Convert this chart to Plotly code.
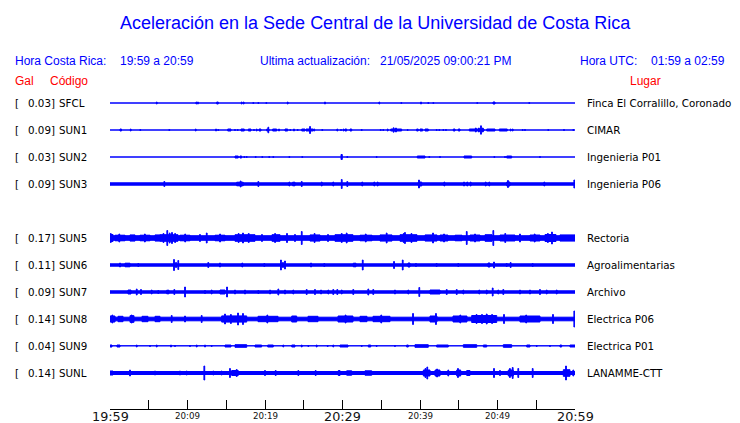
import plotly.graph_objects as go

W, H = 740, 423

# ---------------- text content ----------------
title_text = "Aceleración en la Sede Central de la Universidad de Costa Rica"
hora_cr_label = "Hora Costa Rica:"
hora_cr = "19:59 a 20:59"
update_label = "Ultima actualización:"
update_time = "21/05/2025 09:00:21 PM"
hora_utc_label = "Hora UTC:"
hora_utc = "01:59 a 02:59"

# ---------------- stations ----------------
codes = ["SFCL", "SUN1", "SUN2", "SUN3", "SUN5", "SUN6", "SUN7", "SUN8", "SUN9", "SUNL"]
gal = [0.03, 0.09, 0.03, 0.09, 0.17, 0.11, 0.09, 0.14, 0.04, 0.14]
places = ["Finca El Corralillo, Coronado", "CIMAR", "Ingenieria P01", "Ingenieria P06",
          "Rectoria", "Agroalimentarias", "Archivo", "Electrica P06", "Electrica P01",
          "LANAMME-CTT"]
slots = [0, 1, 2, 3, 5, 6, 7, 8, 9, 10]          # SUN4 slot is empty
base_amp = [0, 0, 0, 1.7, 2.8, 1.7, 1.7, 2.3, 0.7, 2.0]   # background noise half-amplitude

# time axis (minutes after 19:59)
tick_minutes = list(range(0, 61, 5))
tick_text = {0: "19:59", 10: "20:09", 20: "20:19", 30: "20:29", 40: "20:39", 50: "20:49", 60: "20:59"}
big_ticks = [0, 30, 60]

# events: (start minute, end minute, half-amplitude)
SFCL_ev = [(6.03, 6.03, 1.5), (11.14, 11.14, 1.5), (11.35, 11.35, 1.5), (13.77, 13.97, 1.5),
           (16.99, 16.99, 1.5), (17.25, 17.25, 1.5), (18.49, 18.49, 1), (19.14, 19.14, 1),
           (20.17, 20.17, 1), (22.93, 22.93, 1.5), (27.74, 27.74, 1.5), (34.75, 34.75, 1.5),
           (37.59, 37.59, 1), (40.13, 40.13, 1.5), (41.07, 41.07, 1), (41.72, 41.72, 1),
           (47.39, 47.39, 1), (49.42, 49.68, 1.5), (54.10, 54.10, 1)]

SUN1_ev = [(1.29, 1.48, 1.5), (2.67, 2.67, 1.5), (3.91, 3.91, 1), (7.65, 7.65, 1),
           (11.06, 11.06, 1.5), (13.68, 13.68, 1.5), (13.97, 13.97, 1), (15.19, 15.61, 1.5),
           (16.13, 16.13, 1), (16.48, 16.48, 1), (16.90, 17.33, 1.5), (17.85, 18.19, 1.5),
           (18.58, 18.58, 1), (18.93, 18.93, 1.5), (19.23, 19.48, 1.5), (20.22, 20.52, 1.5),
           (20.43, 20.43, 3.3), (20.99, 21.51, 1.5), (21.81, 21.81, 1.5), (22.58, 22.93, 1.5),
           (23.26, 23.26, 1), (23.74, 23.74, 1.5), (24.22, 24.22, 1), (24.74, 25.16, 1.5),
           (25.29, 26.23, 1.5), (25.81, 25.81, 4), (26.36, 26.36, 1.5), (27.39, 27.39, 1),
           (29.33, 29.33, 1.5), (29.81, 29.81, 1), (30.15, 30.15, 1.5), (30.32, 30.54, 1.5),
           (30.97, 31.19, 1.5), (32.48, 32.48, 1), (34.93, 34.93, 1), (35.26, 35.26, 1),
           (35.83, 35.83, 1.5), (36.22, 37.63, 1.5), (36.6, 36.6, 2.7), (36.9, 36.9, 2.5),
           (38.41, 38.41, 1),
           (39.57, 39.77, 1.5), (40.0, 40.34, 1.5), (40.65, 41.07, 1.5), (42.15, 42.15, 1),
           (42.49, 42.49, 1), (43.01, 43.01, 1), (43.35, 43.35, 1), (44.30, 44.52, 1.5),
           (44.94, 45.16, 1.5), (46.36, 48.26, 1.5), (47.2, 47.2, 2.5), (47.6, 47.6, 2.5),
           (47.87, 47.87, 4.7), (48.1, 48.1, 2.5),
           (48.61, 49.68, 1.5), (50.23, 51.26, 1.5), (51.70, 51.70, 1.5), (51.96, 51.96, 1.5),
           (53.25, 53.25, 1), (53.55, 53.55, 1), (56.55, 56.55, 1), (58.58, 58.58, 1),
           (59.78, 59.78, 1)]

SUN2_ev = [(16.13, 16.55, 1.5), (16.77, 16.99, 1.5), (17.33, 17.33, 1), (17.64, 17.64, 1),
           (18.80, 18.80, 1), (19.65, 19.65, 1), (20.55, 20.55, 1), (21.07, 21.07, 1),
           (23.14, 23.14, 1), (24.81, 24.81, 1), (29.81, 29.97, 3), (30.62, 30.62, 1),
           (34.41, 34.41, 1), (39.65, 40.65, 1.5), (41.2, 41.2, 1), (42.58, 42.58, 1),
           (45.68, 46.67, 1.5), (49.59, 49.59, 1), (50.97, 50.97, 1), (51.19, 51.83, 1.5),
           (55.48, 55.48, 1)]

SUN3_ev = [(7.01, 7.01, 3), (16.35, 17.19, 2.3), (16.86, 16.86, 3.5), (19.14, 19.14, 3),
           (23.14, 23.14, 2.5), (23.57, 23.87, 2.3), (24.74, 24.74, 3), (27.32, 27.32, 2.5),
           (28.81, 28.81, 2.5), (29.90, 29.90, 5), (30.62, 30.62, 3), (32.55, 32.55, 2.5),
           (34.10, 34.10, 2.5), (34.54, 34.54, 2.5), (39.78, 40.22, 2.5), (39.87, 39.87, 4.5),
           (43.14, 43.14, 2.5), (45.68, 45.68, 2.5), (46.10, 46.10, 2.5), (46.54, 46.54, 2.5),
           (48.48, 48.48, 2.5), (48.94, 48.94, 2.5), (51.19, 51.61, 2.5), (51.35, 51.35, 4),
           (56.04, 56.04, 2.5), (59.91, 59.91, 4.5)]

SUN5_ev = [(0.0, 0.39, 4), (0.1, 0.1, 5), (0.65, 1.94, 3.3), (1.2, 1.2, 4.5), (2.58, 3.23, 3.6),
           (3.87, 5.16, 3.3), (4.5, 4.5, 4.5), (5.81, 6.45, 3.6), (6.45, 8.77, 3.8),
           (6.9, 6.9, 5), (7.39, 7.39, 8), (7.7, 7.7, 5.5), (8.0, 8.0, 6), (8.4, 8.4, 5),
           (9.03, 10.32, 3.3), (9.7, 9.7, 4.5), (11.61, 11.61, 4), (12.48, 12.48, 5.5),
           (13.55, 14.84, 3.3), (14.2, 14.2, 4.5), (16.13, 18.71, 3.8), (16.6, 16.6, 5),
           (17.16, 17.16, 5.5), (17.9, 17.9, 5), (19.61, 19.61, 4), (20.9, 21.94, 3.8),
           (21.3, 21.3, 5), (22.84, 22.84, 5), (23.87, 23.87, 4), (24.74, 24.74, 7),
           (25.81, 27.1, 3.6), (26.4, 26.4, 5), (28.13, 28.13, 4), (29.03, 31.35, 3.8),
           (29.9, 29.9, 5), (30.54, 30.54, 5.5), (32.26, 33.81, 3.3), (33.0, 33.0, 4.5),
           (34.84, 36.39, 3.6), (35.7, 35.7, 5.5), (37.42, 39.61, 3.8), (37.9, 37.9, 5),
           (38.06, 38.06, 6), (38.9, 38.9, 5), (40.65, 42.19, 3.6), (41.68, 41.68, 5.5),
           (42.58, 43.61, 3.5), (43.1, 43.1, 4.5), (44.52, 45.42, 3.3), (46.03, 46.03, 7),
           (46.45, 47.74, 3.5), (47.1, 47.1, 4.5), (48.39, 49.29, 3.8), (49.46, 49.46, 8),
           (50.32, 52.26, 3.5), (51.0, 51.0, 5), (52.9, 52.9, 4.5), (54.19, 55.48, 3.5),
           (54.8, 54.8, 4.5), (56.13, 57.55, 4), (56.5, 56.5, 5), (57.03, 57.03, 6.5),
           (58.06, 60.0, 3.6)]

SUN6_ev = [(1.29, 1.29, 2.5), (1.94, 2.58, 2.3), (3.65, 3.65, 2), (8.26, 8.26, 6),
           (8.52, 8.52, 3), (8.81, 8.81, 5), (12.68, 12.68, 3), (14.19, 14.19, 2.5),
           (17.07, 17.07, 2.5), (19.91, 19.91, 2), (22.06, 22.06, 5.5), (22.32, 22.32, 3),
           (22.58, 22.58, 4.5), (25.94, 25.94, 2.5), (27.65, 27.65, 2), (31.39, 31.74, 2.3),
           (32.61, 32.61, 5.5), (36.65, 36.65, 4), (37.77, 37.77, 5.5), (38.45, 38.71, 2.5),
           (39.48, 39.48, 2), (42.15, 42.15, 2), (44.94, 44.94, 2), (48.77, 49.03, 2.5),
           (49.55, 49.55, 3.5), (51.19, 51.19, 2), (51.70, 51.70, 3), (54.54, 54.54, 2)]

SUN7_ev = [(2.32, 2.71, 2.5), (3.45, 3.45, 3.5), (4.0, 4.0, 3), (5.38, 5.38, 2.5),
           (6.23, 6.23, 2), (7.32, 7.61, 2.3), (8.30, 8.30, 3), (9.68, 9.68, 5.5),
           (12.26, 12.26, 2), (13.12, 13.12, 2.5), (14.19, 14.84, 2.5), (15.10, 15.10, 5.5),
           (16.13, 16.13, 2.5), (17.42, 17.42, 2.5), (19.14, 19.14, 2), (20.65, 20.65, 2.5),
           (21.72, 21.72, 3.5), (22.58, 22.58, 2.5), (23.65, 23.65, 2.5), (25.38, 25.38, 3),
           (26.45, 26.45, 3), (27.23, 27.23, 2.5), (28.17, 28.17, 2.5), (28.81, 28.81, 3),
           (29.33, 29.33, 3), (29.90, 29.90, 2.5), (31.39, 31.39, 3), (33.33, 33.33, 3.5),
           (33.97, 33.97, 3), (36.77, 36.77, 2.5), (38.49, 38.49, 2.5), (39.91, 39.91, 5),
           (41.29, 42.58, 2.5), (43.45, 43.45, 3), (44.74, 44.74, 3), (45.59, 45.59, 2.5),
           (47.65, 47.65, 2.5), (48.61, 48.61, 2.5), (49.38, 49.38, 4.5), (50.10, 50.10, 2.5),
           (50.75, 50.75, 3), (52.90, 52.90, 2.5), (54.19, 54.19, 2.5), (55.48, 55.48, 3),
           (56.35, 56.35, 2.5), (57.64, 57.64, 2.5)]

SUN8_ev = [(0.0, 0.65, 3.5), (0.3, 0.3, 4.5), (1.03, 1.68, 3.2), (2.58, 3.10, 3.8),
           (2.8, 2.8, 4.5), (4.13, 4.90, 3.2), (5.81, 6.45, 3.2), (7.96, 7.96, 4),
           (9.68, 9.68, 3.5), (11.83, 11.83, 4), (14.41, 17.64, 3.6), (14.84, 14.84, 5.5),
           (15.6, 15.6, 5), (16.52, 16.52, 6.5), (17.16, 17.16, 6), (19.1, 21.68, 3.2),
           (20.3, 20.3, 4.5), (23.45, 24.09, 3.5), (25.55, 26.84, 3.2), (29.42, 31.35, 3.5),
           (30.4, 30.4, 4.5), (32.26, 33.16, 3.2), (33.94, 36.13, 3.2), (35.0, 35.0, 4.5),
           (39.10, 39.10, 6), (41.29, 42.19, 3.5), (42.06, 42.06, 6), (44.26, 46.06, 3.5),
           (45.2, 45.2, 4.5), (46.67, 49.90, 4), (47.3, 47.3, 5), (48.0, 48.0, 5),
           (48.61, 48.61, 5.5), (49.3, 49.3, 5), (50.84, 50.84, 5), (52.90, 55.48, 3.5),
           (53.7, 53.7, 4.5), (57.16, 57.16, 5), (59.91, 59.91, 8.5)]

SUN9_ev = [(0.0, 0.26, 1.5), (0.9, 1.29, 1.5), (3.45, 3.45, 1.5), (5.16, 5.16, 1),
           (6.03, 6.03, 1.5), (7.87, 7.87, 1.5), (8.39, 8.39, 1), (10.32, 10.32, 1),
           (11.19, 11.19, 1.5), (12.26, 12.26, 1.5), (13.12, 13.12, 1), (14.84, 15.61, 1.5),
           (16.13, 17.64, 1.8), (18.71, 19.57, 1.5), (20.35, 21.07, 1.5), (22.36, 22.36, 1.5),
           (23.45, 23.87, 1.5), (24.74, 24.74, 1.5), (25.59, 25.59, 1), (26.67, 26.67, 1.5),
           (28.09, 28.09, 1), (28.81, 28.81, 1.5), (29.68, 30.71, 1.5), (32.48, 32.48, 1),
           (33.33, 33.64, 1.5), (34.41, 34.41, 1), (36.77, 36.77, 1), (38.28, 38.49, 1.5),
           (39.35, 41.07, 1.8), (42.15, 43.65, 1.5), (45.59, 47.32, 1.8), (48.17, 48.61, 1.5),
           (50.75, 51.83, 1.8), (53.77, 54.19, 1.5), (55.06, 55.06, 1), (56.77, 56.77, 1),
           (58.06, 58.28, 1.5), (59.35, 60.0, 1.5)]

SUNL_ev = [(0.0, 0.39, 2.5), (2.58, 2.58, 3.5), (5.81, 5.81, 2.5), (9.03, 9.03, 2.5),
           (9.90, 9.90, 2.5), (12.17, 12.17, 7.5), (13.33, 13.33, 2.5), (14.41, 14.41, 2.5),
           (15.48, 15.48, 5), (15.70, 16.55, 3), (16.35, 16.35, 4), (20.0, 20.0, 3),
           (21.38, 21.38, 3), (24.30, 24.30, 3), (26.54, 26.54, 3), (29.46, 29.68, 3),
           (30.54, 31.19, 2.7), (32.90, 33.77, 2.7), (40.43, 41.29, 3.5), (40.7, 40.7, 5),
           (40.94, 40.94, 6.5), (41.94, 42.58, 3.5), (42.2, 42.2, 4.5), (43.65, 43.65, 3.5),
           (44.74, 45.25, 3.5), (44.9, 44.9, 5), (46.03, 46.45, 3), (49.55, 49.55, 5),
           (50.32, 50.32, 3), (51.39, 52.03, 3.5), (51.6, 51.6, 5), (51.96, 51.96, 6),
           (52.68, 52.68, 5), (54.54, 54.54, 5), (58.49, 59.35, 3.8), (58.84, 58.84, 7.5),
           (59.78, 59.78, 3.5)]

events = [SFCL_ev, SUN1_ev, SUN2_ev, SUN3_ev, SUN5_ev, SUN6_ev, SUN7_ev, SUN8_ev, SUN9_ev, SUNL_ev]

# ---------------- drawing ----------------
BLUE = "#0000ff"
RED = "#ff0000"
ROW = 27          # vertical spacing of traces (y units)
LW = 1.0          # outline width
SPIKE_W = 0.1     # minimum width of an isolated spike (minutes)


def add_box(xs, ys, t0, t1, c, a):
    a = max(a - LW / 2, 0)
    if t1 - t0 < SPIKE_W:
        m = (t0 + t1) / 2
        t0, t1 = m - SPIKE_W / 2, m + SPIKE_W / 2
    xs += [t0, t1, t1, t0, t0, None]
    ys += [c + a, c + a, c - a, c - a, c + a, None]


fig = go.Figure()
for slot, b, ev in zip(slots, base_amp, events):
    c = -ROW * slot
    xs, ys = [], []
    add_box(xs, ys, 0, 60, c, b)
    for t0, t1, a in ev:
        add_box(xs, ys, t0, t1, c, a)
    fig.add_trace(go.Scatter(x=xs, y=ys, mode="lines", fill="toself", fillcolor=BLUE,
                             line=dict(color=BLUE, width=LW), hoverinfo="skip",
                             showlegend=False))


def px(x):
    return x / W


def py(y):
    return 1 - y / H


ann = []
LAB = "Liberation Sans, Arial, sans-serif"
DV = "DejaVu Sans, sans-serif"


def text(x, y, s, size, color, family=LAB, xanchor="left", xref="paper", yref="paper"):
    ann.append(dict(x=x, y=y, xref=xref, yref=yref, text=s, showarrow=False,
                    xanchor=xanchor, yanchor="middle", borderpad=0, borderwidth=0,
                    font=dict(size=size, color=color, family=family)))


text(px(375), py(23), title_text, 18, BLUE, xanchor="center")
text(px(15), py(61), hora_cr_label, 12, BLUE)
text(px(120), py(61), hora_cr, 12, BLUE)
text(px(260), py(61), update_label, 12, BLUE)
text(px(380), py(61), update_time, 12, BLUE)
text(px(580), py(61), hora_utc_label, 12, BLUE)
text(px(651), py(61), hora_utc, 12, BLUE)
text(px(15), py(80.5), "Gal", 12, RED)
text(px(50), py(80.5), "Código", 12, RED)
text(px(630), py(80.5), "Lugar", 12, RED)

for slot, code, g, place in zip(slots, codes, gal, places):
    c = -ROW * slot
    text(px(15), c, "[", 10.3, "black", DV, yref="y")
    text(px(55), c, f"{g:.2f}]", 10.3, "black", DV, xanchor="right", yref="y")
    text(px(58.5), c, code, 10.3, "black", DV, yref="y")
    text(px(587), c, place, 10.3, "black", DV, yref="y")

for t, s in tick_text.items():
    big = t in big_ticks
    text(t, py(416.5 if big else 415.5), s, 12.8 if big else 8.7, "#111111", DV,
         xanchor="center", xref="x")

fig.update_layout(
    width=W, height=H,
    margin=dict(l=0, r=0, t=0, b=0),
    paper_bgcolor="white", plot_bgcolor="white",
    showlegend=False,
    annotations=ann,
    xaxis=dict(domain=[px(110), px(575)], range=[0, 60], anchor="free",
               position=py(409), showline=True, linecolor="black", linewidth=1,
               ticks="inside", ticklen=9, tickwidth=1, tickcolor="black",
               tickvals=tick_minutes, showticklabels=False, showgrid=False,
               zeroline=False, fixedrange=True),
    yaxis=dict(domain=[0, 1], range=[103 - H, 103], visible=False, showgrid=False,
               zeroline=False, fixedrange=True),
)

fig.write_html("out.html", config={"displayModeBar": False},
               post_script="document.body.style.margin='0';document.body.style.overflow='hidden';")
